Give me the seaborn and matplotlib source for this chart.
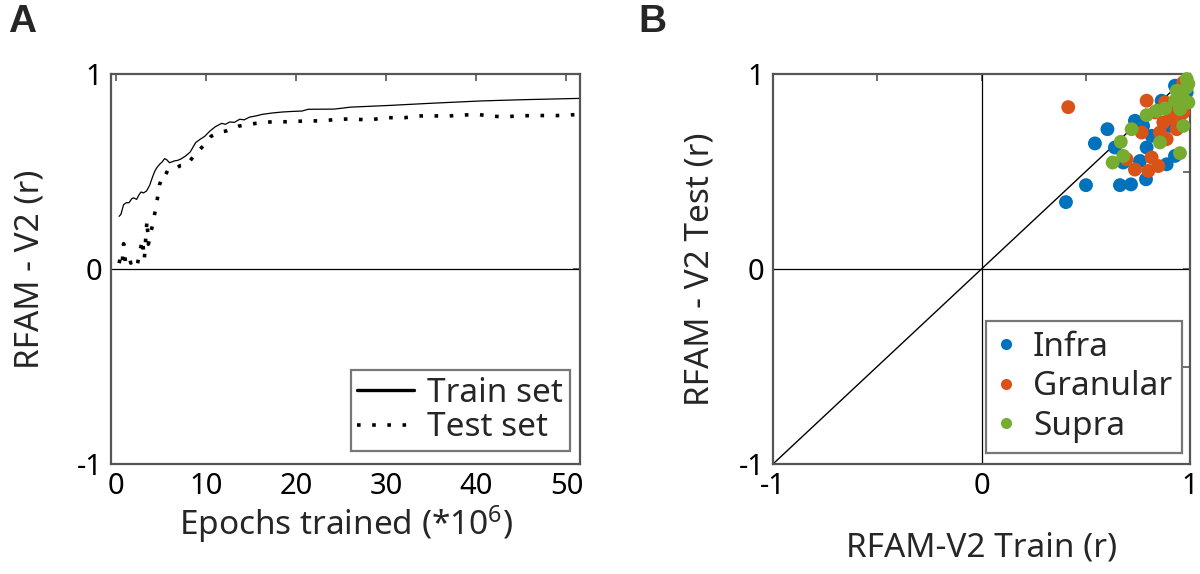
import numpy as np
import pandas as pd
import matplotlib
matplotlib.use("Agg")
import matplotlib.pyplot as plt
from matplotlib.lines import Line2D
import seaborn as sns

# ---------------- data ----------------
train_epochs = [0.3, 0.5, 0.8, 1.1, 1.4, 1.7, 1.9, 2.25, 2.5, 2.75, 3.0, 3.35, 3.7, 4.0,
                4.25, 4.5, 4.8, 5.1, 5.35, 5.6, 5.9, 6.2, 6.4, 6.8, 7.2, 7.7, 8.2, 8.8,
                9.3, 9.8, 10.4, 11.0, 11.7, 12.1, 12.6, 13.1, 13.7, 14.2, 14.8, 15.5,
                16.2, 17.3, 18.4, 19.5, 20.6, 21.3, 24.2, 26.0, 30.4, 35.0, 40.6, 45.0, 51.5]
train_r = [0.27, 0.28, 0.33, 0.34, 0.34, 0.36, 0.365, 0.357, 0.38, 0.395, 0.39, 0.40, 0.43,
           0.47, 0.50, 0.52, 0.537, 0.55, 0.566, 0.56, 0.545, 0.55, 0.554, 0.557, 0.565,
           0.58, 0.60, 0.648, 0.665, 0.68, 0.708, 0.73, 0.747, 0.742, 0.754, 0.752, 0.768,
           0.765, 0.779, 0.785, 0.793, 0.80, 0.805, 0.808, 0.81, 0.819, 0.82, 0.83, 0.839,
           0.85, 0.862, 0.868, 0.875]

test_epochs = [0.3, 0.45, 0.65, 0.8, 1.0, 1.2, 1.4, 1.6, 1.8, 2.0, 2.3, 2.6, 2.9, 3.1, 3.4,
               3.55, 3.8, 4.0, 4.45, 4.8, 5.35, 5.8, 6.35, 7.1, 7.9, 8.6, 9.3, 10.0, 10.5,
               11.3, 12.2, 13.6, 15.5, 17.3, 18.8, 21.0, 22.8, 24.5, 26.1, 28.0, 30.0, 32.0,
               33.8, 35.0, 37.0, 38.8, 40.0, 41.5, 43.0, 44.6, 46.3, 48.0, 49.6, 51.3]
test_r = [0.03, 0.06, 0.03, 0.13, 0.04, 0.05, 0.067, 0.03, 0.04, 0.02, 0.015, 0.09, 0.15,
          0.05, 0.25, 0.127, 0.18, 0.224, 0.33, 0.434, 0.50, 0.49, 0.51, 0.53, 0.537, 0.58,
          0.614, 0.65, 0.68, 0.70, 0.708, 0.733, 0.747, 0.755, 0.755, 0.759, 0.76, 0.767,
          0.77, 0.764, 0.776, 0.776, 0.785, 0.785, 0.785, 0.79, 0.793, 0.785, 0.78, 0.785,
          0.787, 0.787, 0.787, 0.793]

infra_train = [0.405, 0.501, 0.544, 0.604, 0.664, 0.717, 0.789, 0.792, 0.736, 0.64, 0.68,
               0.76, 0.888, 0.928, 0.816, 0.864, 0.928, 0.984, 0.775, 0.90, 0.952]
infra_test = [0.343, 0.43, 0.644, 0.717, 0.43, 0.434, 0.46, 0.623, 0.76, 0.623, 0.546,
              0.554, 0.537, 0.58, 0.683, 0.863, 0.94, 0.906, 0.734, 0.734, 0.786]

gran_train = [0.416, 0.792, 0.768, 0.736, 0.80, 0.816, 0.848, 0.696, 0.856, 0.888, 0.88,
              0.92, 0.936, 0.952, 0.968, 0.904, 0.936, 0.872, 0.832, 0.968]
gran_test = [0.83, 0.863, 0.70, 0.51, 0.503, 0.572, 0.528, 0.563, 0.70, 0.666, 0.855,
             0.769, 0.837, 0.906, 0.957, 0.803, 0.717, 0.752, 0.803, 0.803]

supra_train = [0.629, 0.68, 0.668, 0.72, 0.792, 0.856, 0.952, 0.968, 0.84, 0.88, 0.928,
               0.96, 0.984, 0.992, 0.952, 0.984, 0.968, 0.936, 0.992]
supra_test = [0.546, 0.58, 0.652, 0.717, 0.789, 0.649, 0.594, 0.734, 0.811, 0.823, 0.863,
              0.906, 0.974, 0.854, 0.82, 0.93, 0.871, 0.914, 0.95]

layer_names = ["Infra", "Granular", "Supra"]
layer_colors = {"Infra": "#0072BD", "Granular": "#D95319", "Supra": "#77AC30"}

# ---------------- style ----------------
sns.set_theme(style="white")
FONT = ["Noto Sans", "DejaVu Sans"]
plt.rcParams["font.family"] = FONT
plt.rcParams["mathtext.fontset"] = "custom"
plt.rcParams["mathtext.rm"] = "Noto Sans"
plt.rcParams["mathtext.it"] = "Noto Sans"

SPINE = "#555555"
TICK_FS = 21
LABEL_FS = 24
LEG_FS = 24

fig = plt.figure(figsize=(12, 5.74), dpi=100)
axA = fig.add_axes([111 / 1200, 1 - 464 / 574, (580 - 111) / 1200, (464 - 74) / 574])
axB = fig.add_axes([773 / 1200, 1 - 464 / 574, (1190 - 773) / 1200, (464 - 74) / 574])


def style_axes(ax):
    for s in ax.spines.values():
        s.set_visible(True)
        s.set_color(SPINE)
        s.set_linewidth(1.6)
    ax.tick_params(direction="in", length=5, width=1.2, color=SPINE,
                   top=True, right=True, labelsize=TICK_FS, pad=6,
                   labelcolor="black")


# ---------------- panel A ----------------
dfA_train = pd.DataFrame({"epoch": train_epochs, "r": train_r})
dfA_test = pd.DataFrame({"epoch": test_epochs, "r": test_r})
axA.axhline(0, color="black", lw=0.9, zorder=1)
sns.lineplot(data=dfA_train, x="epoch", y="r", ax=axA, color="black", linewidth=0.9,
             estimator=None, legend=False)
sns.lineplot(data=dfA_test, x="epoch", y="r", ax=axA, color="black", linewidth=2.6,
             linestyle=(0, (1, 3.2)), estimator=None, legend=False)
axA.set_xlim(-0.6, 51.5)
axA.set_ylim(-1, 1)
axA.set_xticks([0, 10, 20, 30, 40, 50])
axA.set_yticks([-1, 0, 1])
axA.set_yticklabels(["-1", "0", "1"])
style_axes(axA)
axA.set_xlabel("Epochs trained (*10$^{6}$)", fontsize=LABEL_FS)
axA.set_ylabel("RFAM - V2 (r)", fontsize=LABEL_FS)
axA.xaxis.label.set_va("center")
axA.yaxis.label.set_va("center")
axA.xaxis.set_label_coords(0.5, (464 - 524) / 390)
axA.yaxis.set_label_coords((30 - 111) / 469, 0.5)

legA_handles = [Line2D([], [], color="black", lw=2.4),
                Line2D([], [], color="black", lw=2.6, linestyle=(0, (1, 3.2)))]
legA = axA.legend(legA_handles, ["Train set", "Test set"], loc="lower right",
                  bbox_to_anchor=((570 - 111) / 469, (464 - 451) / 390),
                  borderaxespad=0, fontsize=LEG_FS, frameon=True, fancybox=False,
                  handlelength=1.7, handletextpad=0.4, labelspacing=0.05,
                  borderpad=0.2)
legA.get_frame().set_edgecolor(SPINE)
legA.get_frame().set_linewidth(1.6)

# ---------------- panel B ----------------
dfB = pd.DataFrame({
    "train": infra_train + gran_train + supra_train,
    "test": infra_test + gran_test + supra_test,
    "layer": (["Infra"] * len(infra_train) + ["Granular"] * len(gran_train)
              + ["Supra"] * len(supra_train)),
})
axB.axhline(0, color="black", lw=0.9, zorder=1)
axB.axvline(0, color="black", lw=0.9, zorder=1)
axB.plot([-1, 1], [-1, 1], color="black", lw=1.0, zorder=1)
sns.scatterplot(data=dfB, x="train", y="test", hue="layer", hue_order=layer_names,
                palette=layer_colors, s=100, edgecolor="none", linewidth=0, ax=axB,
                zorder=3, clip_on=False, legend=False)
axB.set_xlim(-1, 1)
axB.set_ylim(-1, 1)
axB.set_xticks([-1, -0.5, 0, 0.5, 1])
axB.set_xticklabels(["-1", "", "0", "", "1"])
axB.set_yticks([-1, -0.5, 0, 0.5, 1])
axB.set_yticklabels(["-1", "", "0", "", "1"])
style_axes(axB)
axB.set_xlabel("RFAM-V2 Train (r)", fontsize=LABEL_FS)
axB.set_ylabel("RFAM - V2 Test (r)", fontsize=LABEL_FS)
axB.xaxis.label.set_va("center")
axB.yaxis.label.set_va("center")
axB.xaxis.set_label_coords(0.5, (464 - 548) / 390)
axB.yaxis.set_label_coords((700 - 773) / 417, 0.5)

legB_handles = [Line2D([], [], marker="o", linestyle="none", markersize=8,
                       markerfacecolor=layer_colors[n], markeredgecolor="none")
                for n in layer_names]
legB = axB.legend(legB_handles, layer_names, loc="lower right",
                  bbox_to_anchor=((1182 - 773) / 417, (464 - 453) / 390),
                  borderaxespad=0, fontsize=LEG_FS, frameon=True, fancybox=False,
                  handlelength=0.6, handletextpad=0.5, labelspacing=0.2,
                  borderpad=0.3)
legB.get_frame().set_edgecolor(SPINE)
legB.get_frame().set_linewidth(1.6)

# ---------------- panel letters ----------------
fig.text(8 / 1200, 1 - 22 / 574, "A", fontsize=28, fontweight="bold",
         family=["Liberation Sans", "DejaVu Sans"], va="center", ha="left")
fig.text(638 / 1200, 1 - 22 / 574, "B", fontsize=28, fontweight="bold",
         family=["Liberation Sans", "DejaVu Sans"], va="center", ha="left")

fig.savefig("out.png", dpi=100)
